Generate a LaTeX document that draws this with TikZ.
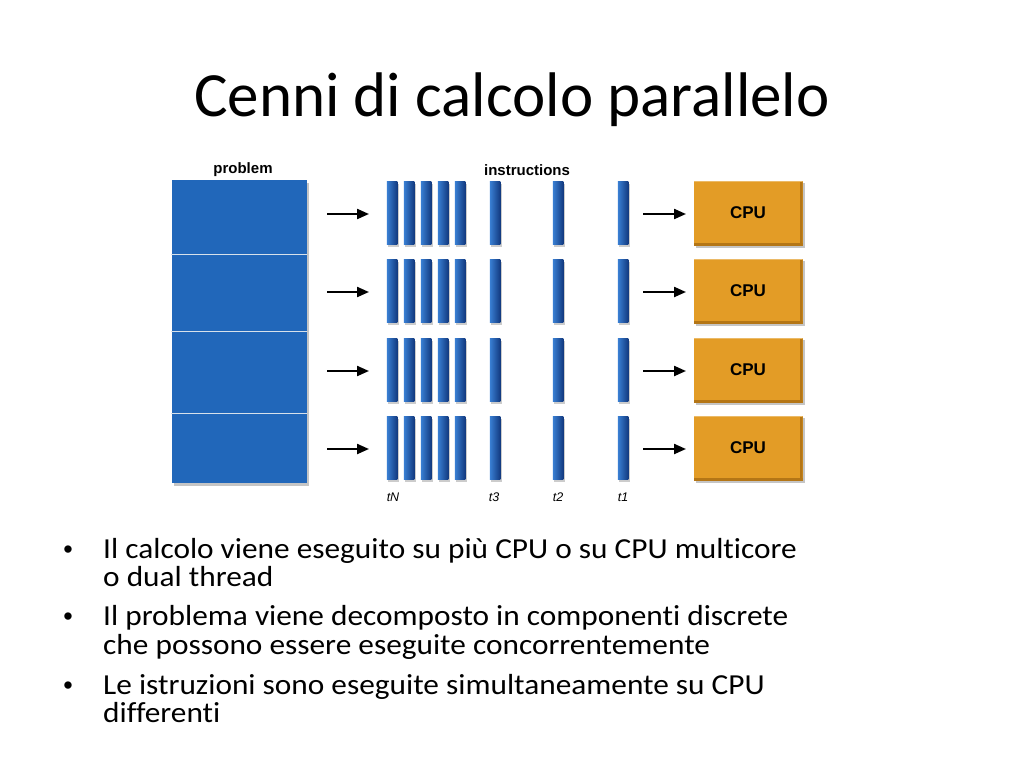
\documentclass[tikz,border=0pt]{standalone}
\usepackage{fontspec}
\setmainfont{Carlito}[Ligatures=NoCommon]
\newfontfamily\bodyfont{Carlito}[Ligatures=NoCommon, FakeStretch=1.08]
\newfontfamily\hv{Liberation Sans}
\usetikzlibrary{shadows,arrows.meta}
\definecolor{probblue}{RGB}{33,103,186}
\definecolor{barlight}{RGB}{58,128,212}
\definecolor{barmid}{RGB}{36,102,190}
\definecolor{bardark}{RGB}{18,58,128}
\definecolor{cpuorange}{RGB}{227,156,38}
\definecolor{cpudark}{RGB}{180,118,22}
\definecolor{divline}{RGB}{215,225,235}
\tikzset{
  probpart/.style={rectangle, inner sep=0pt, minimum width=135pt, fill=probblue},
  probbg/.style={rectangle, inner sep=0pt, fill=probblue, drop shadow={shadow xshift=2pt, shadow yshift=-2.5pt, opacity=0.45}},
  divider/.style={draw=divline, line width=1pt},
  bar/.style={rectangle, inner sep=0pt, minimum width=10.5pt, minimum height=63pt,
    left color=barlight, middle color=barmid, right color=bardark,
    drop shadow={shadow xshift=1.5pt, shadow yshift=-2pt, opacity=0.4}},
  cpubox/.style={rectangle, inner sep=0pt, minimum width=109pt, minimum height=65pt,
    fill=cpuorange,
    path picture={
      \fill[cpudark] (path picture bounding box.south west) rectangle ([yshift=3pt]path picture bounding box.south east);
      \fill[cpudark] (path picture bounding box.north east) rectangle ([xshift=-3pt]path picture bounding box.south east);
      \fill[cpuorange!70!white] (path picture bounding box.north west) rectangle ([yshift=-1.5pt]path picture bounding box.north east);
    },
    drop shadow={shadow xshift=2pt, shadow yshift=-2.5pt, opacity=0.45},
    font=\hv\bfseries\fontsize{17}{20}\selectfont},
  flowarrow/.style={draw=black, line width=2.2pt, -{Triangle[length=12pt,width=10pt]}},
  hdrlabel/.style={font=\hv\bfseries\fontsize{15}{18}\selectfont},
  tlabel/.style={font=\hv\itshape\fontsize{12.5}{14}\selectfont},
  bullettext/.style={anchor=base west, inner sep=0pt, font=\bodyfont\fontsize{29}{34}\selectfont},
  bulletmark/.style={anchor=base, inner sep=0pt, font=\hv\fontsize{27}{32}\selectfont},
}
\begin{document}
\begin{tikzpicture}[x=1pt,y=-1pt]
\useasboundingbox (0,0) rectangle (1024,768);
\fill[white] (0,0) rectangle (1024,768);

% title
\node[anchor=base, inner sep=0pt, font=\fontsize{63}{70}\selectfont] (title) at (512,116) {Cenni di calcolo parallelo};

% headers
\node[hdrlabel] (hprob) at (243,170) {problem};
\node[hdrlabel] (hinstr) at (527,170) {instructions};

% problem box
\node[probbg, minimum width=135pt, minimum height=303pt] (prob) at (239,331.5) {};
\node[probpart, minimum height=74pt] (p1) at (239,217) {};
\node[probpart, minimum height=77pt] (p2) at (239,292.5) {};
\node[probpart, minimum height=82pt] (p3) at (239,372) {};
\node[probpart, minimum height=70pt] (p4) at (239,448) {};
\draw[divider] (p1.south west) -- (p1.south east);
\draw[divider] (p2.south west) -- (p2.south east);
\draw[divider] (p3.south west) -- (p3.south east);

% rows
\foreach \r/\yy in {1/213, 2/291, 3/370, 4/448} {
  \foreach \c/\xx in {1/392, 2/409, 3/426, 4/443, 5/460} {
    \node[bar] (b\r\c) at (\xx,\yy) {};
  }
  \node[bar] (t3\r) at (495,\yy) {};
  \node[bar] (t2\r) at (558,\yy) {};
  \node[bar] (t1\r) at (623,\yy) {};
  \node[cpubox] (cpu\r) at (748,\yy) {CPU};
  \coordinate (las\r) at (327,\yy+1);
  \coordinate (lae\r) at (369,\yy+1);
  \coordinate (ras\r) at (643,\yy+1);
  \coordinate (rae\r) at (686,\yy+1);
  \draw[flowarrow] (las\r) -- (lae\r);
  \draw[flowarrow] (ras\r) -- (rae\r);
}

% time labels
\node[tlabel] (ltN) at (393,497) {tN};
\node[tlabel] (lt3) at (494,497) {t3};
\node[tlabel] (lt2) at (558,497) {t2};
\node[tlabel] (lt1) at (623,497) {t1};

% bullets
\node[bulletmark] (m1) at (68,558) {•};
\node[bullettext] (l1) at (103,558) {Il calcolo viene eseguito su più CPU o su CPU multicore};
\node[bullettext] (l2) at (103,586) {o dual thread};
\node[bulletmark] (m2) at (68,625) {•};
\node[bullettext] (l3) at (103,625) {Il problema viene decomposto in componenti discrete};
\node[bullettext] (l4) at (103,654) {che possono essere eseguite concorrentemente};
\node[bulletmark] (m3) at (68,694) {•};
\node[bullettext] (l5) at (103,694) {Le istruzioni sono eseguite simultaneamente su CPU};
\node[bullettext] (l6) at (103,722) {differenti};
\end{tikzpicture}
\end{document}
